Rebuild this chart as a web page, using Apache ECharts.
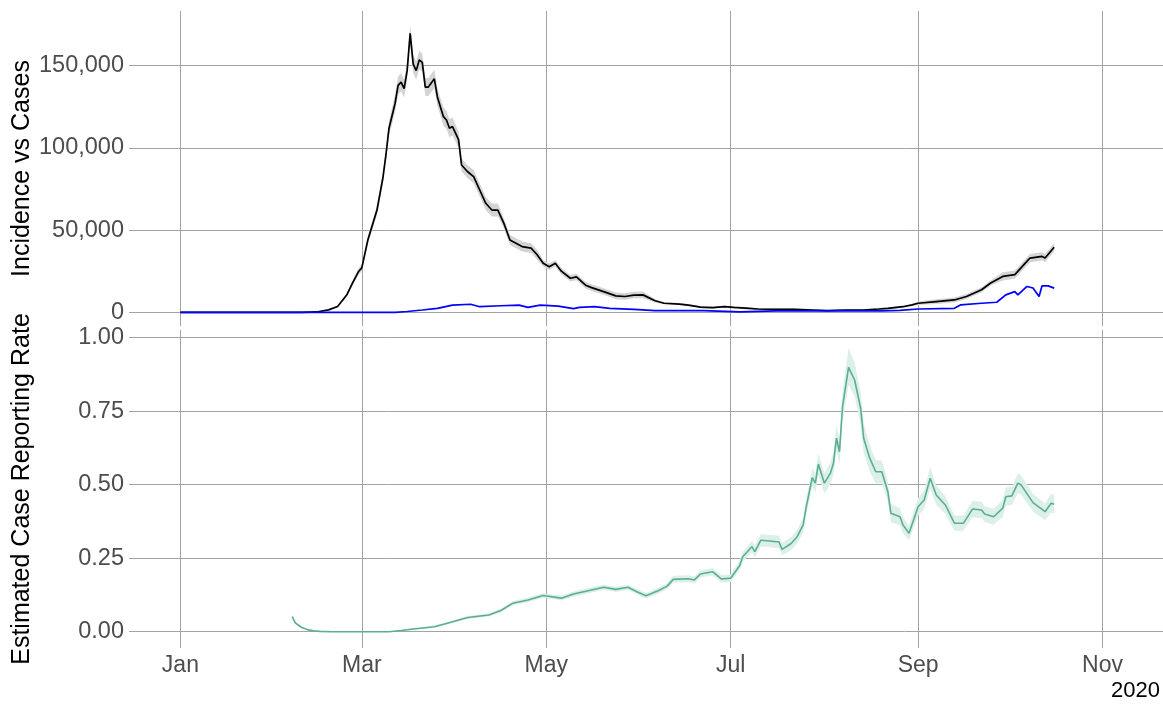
<!DOCTYPE html>
<html>
<head>
<meta charset="utf-8">
<script src="https://cdn.jsdelivr.net/npm/echarts@6/dist/echarts.min.js"></script>
<style>
html,body{margin:0;padding:0;background:#fff}
#main{width:1163px;height:705px}
</style>
</head>
<body>
<div id="main"></div>
<script>
// days are counted from 2020-01-01
var incDays = [0,40,45,49,52,55,57,59,60,62,
	65,67,68,69,71,72,73,74,75,76,
	77,78,79,80,81,82,84,85,87,88,
	89,90,92,93,95,97,99,101,103,105,
	107,109,111,113,116,118,120,122,124,126,
	129,131,134,136,140,144,147,150,153,157,
	160,165,168,172,176,180,183,187,191,197,
	203,209,214,220,226,231,234,239,242,244,
	250,256,260,265,268,272,276,279,281,285,
	286,289]
var incidence = [0,0,200,1500,3500,10500,18000,25000,27000,44000,
	62000,82000,96000,112000,127000,138000,140000,136000,147000,169700,
	151000,147000,153500,152000,137000,137000,142000,131000,119000,117000,
	112000,113000,105000,89600,85500,82500,74400,66300,62200,62200,
	54100,44000,42000,40000,39000,35000,29800,27700,29800,25000,
	20700,21500,16500,15000,12600,10000,9600,10500,10600,7000,
	5500,5000,4400,3200,2800,3500,3000,2500,2000,1800,
	1800,1400,1000,1400,1400,2000,2400,3400,4500,5500,
	6500,7500,9600,13700,17800,21800,22900,29000,33000,34000,
	33000,39600]
var incLow = [0,0,100,1200,3000,9500,16500,23000,25000,41500,
	59000,78500,92000,107500,121500,132500,134500,130500,141500,164700,
	145500,141500,148000,146500,131500,131500,136500,125500,113500,111500,
	106500,107500,100000,85600,81500,78500,70400,62300,58200,58200,
	51100,41000,39000,37000,36000,32000,27800,25700,27800,23000,
	18700,19500,14500,13000,10600,8000,7600,8500,8600,6000,
	4900,4400,3800,2600,2200,2900,2400,1900,1400,1200,
	1200,800,400,800,800,1400,1800,2800,3900,4500,
	5000,6000,8100,12200,16300,19300,20400,26500,30500,31500,
	30500,37100]
var incHigh = [0,0,300,1800,4000,11500,19500,27000,29000,46500,
	65000,85500,100000,116500,132500,143500,145500,141500,152500,174700,
	156500,152500,159000,157500,142500,142500,147500,136500,124500,122500,
	117500,118500,110000,93600,89500,86500,78400,70300,66200,66200,
	57100,47000,45000,43000,42000,38000,31800,29700,31800,27000,
	22700,23500,18500,17000,14600,12000,11600,12500,12600,8000,
	6100,5600,5000,3800,3400,4100,3600,3100,2600,2400,
	2400,2000,1600,2000,2000,2600,3000,4000,5100,6500,
	8000,9000,11100,15200,19300,24300,25400,31500,35500,36500,
	35500,42100]

var caseDays = [0,71,75,80,85,90,96,99,106,112,
	115,119,125,130,132,137,142,150,157,173,
	185,197,215,232,238,244,256,258,265,270,
	273,276,277,280,282,284,285,287,289]
var cases = [0,0,500,1400,2400,4400,4900,3400,4000,4400,
	3000,4400,3800,2200,3000,3500,2400,1800,1000,1000,
	200,900,900,900,1200,2000,2400,4500,5500,6100,
	10600,12600,10600,15700,14800,9600,16100,16100,14700]

var rateDays = [37,38,40,42,44,46,50,69,73,77,
	84,88,95,102,106,110,115,120,126,130,
	136,140,144,148,151,154,158,161,163,168,
	170,172,176,179,182,185,186,189,190,192,
	194,198,199,202,204,206,207,209,210,211,
	213,215,216,217,218,219,221,223,225,226,
	228,230,232,234,235,238,239,241,244,246,
	248,250,253,256,259,262,265,266,269,272,
	273,275,277,278,282,283,286,288,289]
var rate = [.051,.030,.015,.007,.003,.001,0,0,.004,.009,
	.017,.028,.048,.057,.072,.097,.108,.123,.114,.128,
	.142,.151,.144,.151,.136,.122,.139,.155,.178,.180,
	.176,.196,.204,.179,.182,.225,.255,.289,.272,.311,
	.309,.305,.280,.300,.323,.363,.425,.524,.505,.570,
	.505,.539,.573,.658,.612,.765,.899,.856,.760,.658,
	.590,.544,.544,.476,.403,.391,.363,.335,.425,.448,
	.522,.465,.431,.369,.369,.417,.414,.400,.391,.420,
	.459,.462,.505,.500,.439,.431,.408,.437,.433]
var rateLow = [.046,.026,.012,.005,.002,0,0,0,.002,.006,
	.013,.024,.043,.052,.066,.090,.100,.115,.106,.119,
	.133,.142,.135,.142,.127,.113,.129,.145,.166,.168,
	.164,.184,.191,.166,.169,.210,.238,.270,.252,.290,
	.288,.284,.259,.278,.300,.338,.398,.492,.472,.534,
	.470,.502,.534,.615,.568,.715,.840,.800,.705,.608,
	.545,.504,.506,.442,.372,.362,.336,.310,.395,.416,
	.485,.432,.401,.343,.343,.389,.386,.373,.364,.391,
	.428,.431,.472,.467,.409,.401,.379,.405,.401]
var rateHigh = [.056,.034,.018,.009,.004,.002,.001,.001,.006,.012,
	.021,.032,.053,.062,.078,.104,.116,.131,.122,.137,
	.151,.160,.153,.160,.145,.131,.149,.165,.190,.192,
	.188,.208,.217,.192,.195,.240,.272,.308,.292,.332,
	.330,.326,.301,.322,.346,.388,.452,.556,.538,.606,
	.540,.576,.612,.701,.656,.815,.965,.915,.815,.708,
	.635,.584,.582,.510,.434,.420,.390,.360,.455,.480,
	.560,.498,.461,.395,.395,.445,.442,.427,.418,.449,
	.490,.493,.538,.533,.469,.461,.437,.469,.465]

var incTicks = [0, 50000, 100000, 150000]
var rateTicks = [0, 0.25, 0.5, 0.75, 1]
var monthNames = ['Jan','Feb','Mar','Apr','May','Jun','Jul','Aug','Sep','Oct','Nov','Dec']

// daily categories 2019-12-15 .. 2020-11-21
var firstDay = Date.UTC(2019, 11, 15)
var dayCount = 343
var offset = 17
var dates = []
for (var i = 0; i < dayCount; i++) {
	dates.push(new Date(firstDay + i * 86400000).toISOString().slice(0, 10))
}

function pairs(days, vals) {
	return days.map(function (d, i) { return [d + offset, vals[i]] })
}
function bandPairs(days, lo, hi) {
	return days.map(function (d, i) { return [d + offset, hi[i] - lo[i]] })
}
function oddMonthStart(index, value) {
	var m = +value.slice(5, 7)
	return value.slice(8) === '01' && m % 2 === 1
}

var font = 'Liberation Sans, Arial, sans-serif'
var gridColor = '#a3a3a3'

var chart = echarts.init(document.getElementById('main'))
var option = {
	animation: false,
	textStyle: { fontFamily: font },
	title: {
		text: '2020', right: 3, top: 680, padding: 0,
		textStyle: { fontFamily: font, fontSize: 22, fontWeight: 'normal', color: '#000' }
	},
	grid: [
		{ left: 129, right: 0, top: 11, height: 315, outerBoundsMode: 'none' },
		{ left: 129, right: 0, top: 330, height: 318, outerBoundsMode: 'none' }
	],
	xAxis: [
		{
			type: 'category', gridIndex: 0, data: dates, boundaryGap: false,
			axisLine: { show: false }, axisTick: { show: false }, axisLabel: { show: false },
			splitLine: { show: true, interval: oddMonthStart, lineStyle: { color: gridColor, width: 1 } }
		},
		{
			type: 'category', gridIndex: 1, data: dates, boundaryGap: false,
			axisLine: { show: false }, axisTick: { show: false },
			axisLabel: {
				interval: oddMonthStart, margin: 6, fontSize: 23, color: '#4d4d4d',
				formatter: function (v) { return monthNames[+v.slice(5, 7) - 1] }
			},
			splitLine: { show: true, interval: oddMonthStart, lineStyle: { color: gridColor, width: 1 } }
		}
	],
	yAxis: [
		{
			type: 'value', gridIndex: 0, min: -8333, max: 183273,
			axisLine: { show: false },
			axisTick: { show: false, customValues: incTicks },
			axisLabel: {
				customValues: incTicks, margin: 5, fontSize: 23.5, color: '#4d4d4d',
				formatter: function (v) { return v.toLocaleString('en-US') }
			},
			splitLine: { lineStyle: { color: gridColor, width: 1 } },
			name: 'Incidence vs Cases', nameLocation: 'middle', nameGap: 94, nameMoveOverlap: false,
			nameTextStyle: { fontSize: 25, color: '#000' }
		},
		{
			type: 'value', gridIndex: 1, min: -0.0555, max: 1.026,
			axisLine: { show: false },
			axisTick: { show: false, customValues: rateTicks },
			axisLabel: {
				customValues: rateTicks, margin: 5, fontSize: 23.5, color: '#4d4d4d',
				formatter: function (v) { return v.toFixed(2) }
			},
			splitLine: { lineStyle: { color: gridColor, width: 1 } },
			name: 'Estimated Case Reporting Rate', nameLocation: 'middle', nameGap: 94, nameMoveOverlap: false,
			nameTextStyle: { fontSize: 25, color: '#000' }
		}
	],
	series: [
		{
			type: 'line', xAxisIndex: 0, yAxisIndex: 0, stack: 'inc', symbol: 'none',
			data: pairs(incDays, incLow), lineStyle: { opacity: 0 }, silent: true
		},
		{
			type: 'line', xAxisIndex: 0, yAxisIndex: 0, stack: 'inc', symbol: 'none',
			data: bandPairs(incDays, incLow, incHigh), lineStyle: { opacity: 0 },
			areaStyle: { color: '#d4d4d4', opacity: 1 }, silent: true
		},
		{
			name: 'Incidence', type: 'line', xAxisIndex: 0, yAxisIndex: 0, symbol: 'none',
			data: pairs(incDays, incidence), lineStyle: { color: '#000', width: 1.7 }
		},
		{
			name: 'Cases', type: 'line', xAxisIndex: 0, yAxisIndex: 0, symbol: 'none',
			data: pairs(caseDays, cases), lineStyle: { color: '#0000ff', width: 1.7 }
		},
		{
			type: 'line', xAxisIndex: 1, yAxisIndex: 1, stack: 'rate', symbol: 'none',
			data: pairs(rateDays, rateLow), lineStyle: { opacity: 0 }, silent: true
		},
		{
			type: 'line', xAxisIndex: 1, yAxisIndex: 1, stack: 'rate', symbol: 'none',
			data: bandPairs(rateDays, rateLow, rateHigh), lineStyle: { opacity: 0 },
			areaStyle: { color: '#dcefe8', opacity: 1 }, silent: true
		},
		{
			name: 'Reporting rate', type: 'line', xAxisIndex: 1, yAxisIndex: 1, symbol: 'none',
			data: pairs(rateDays, rate), lineStyle: { color: '#5aae94', width: 1.6 }
		}
	]
}
chart.setOption(option)
</script>
</body>
</html>
